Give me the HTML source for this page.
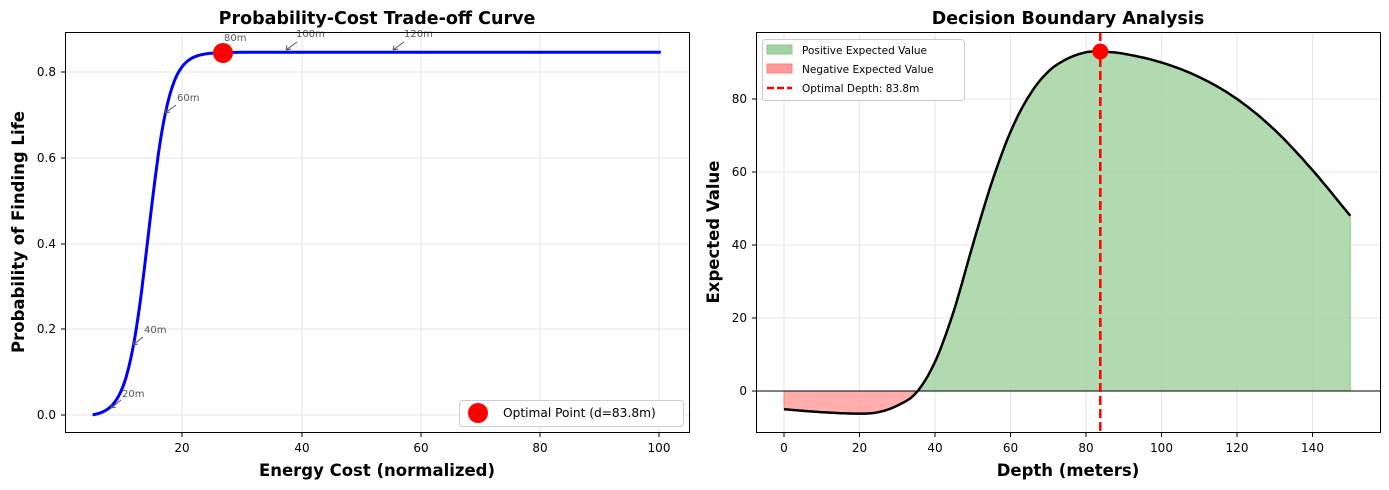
<!DOCTYPE html>
<html><head><meta charset="utf-8"><style>
body{margin:0;background:#fff;}
svg{display:block;font-family:"DejaVu Sans","Liberation Sans",sans-serif;}
</style></head><body>
<svg id="s" width="1389" height="490" viewBox="0 0 1389 490" xmlns="http://www.w3.org/2000/svg">
<rect width="1389" height="490" fill="#fff"/>
<g id="grid" stroke="#e6e6e6" stroke-width="1"></g>
<path id="redfill" fill="#ff9999" fill-opacity="0.8" stroke="#ff8080" stroke-width="1"/>
<path id="greenfill" fill="#a3d3a3" fill-opacity="0.85" stroke="#8cc78c" stroke-width="1"/>
<line x1="756" y1="391" x2="1380" y2="391" stroke="#000" stroke-width="1"/>
<path id="rcurve" fill="none" stroke="#000" stroke-width="2.5"/>
<line x1="1100.3" y1="32" x2="1100.3" y2="433" stroke="#f00" stroke-width="2.5" stroke-dasharray="9,4"/>
<circle cx="1100.3" cy="51.5" r="8" fill="#f00"/>
<path id="lcurve" fill="none" stroke="#00f" stroke-width="3"/>
<circle cx="223" cy="53" r="10" fill="#f00"/>
<g fill="#555" font-size="10" stroke="none">
<text x="122" y="397">20m</text>
<text x="144" y="333">40m</text>
<text x="177" y="101">60m</text>
<text x="224" y="41">80m</text>
<text x="296" y="37">100m</text>
<text x="404" y="37">120m</text>
</g>
<g stroke="#555" stroke-width="1" fill="none">
<path d="M121,400 L111,408 M111,408 l5,-1 M111,408 l1,-4.5"/>
<path d="M143,337 L133,345 M133,345 l5,-1 M133,345 l1,-4.5"/>
<path d="M176,105 L165,113 M165,113 l5,-1 M165,113 l1,-4.5"/>
<path d="M297,42 L286,50 M286,50 l5,-1 M286,50 l1,-4.5"/>
<path d="M404,42 L393,50 M393,50 l5,-1 M393,50 l1,-4.5"/>
</g>
<rect x="65.5" y="32.5" width="624" height="400" fill="none" stroke="#000" stroke-width="1"/>
<rect x="756.5" y="32.5" width="624" height="400" fill="none" stroke="#000" stroke-width="1"/>
<g id="ticks" stroke="#000" stroke-width="1"></g>
<g id="labels" font-size="12" fill="#000">
<text x="182" y="452" text-anchor="middle">20</text>
<text x="302" y="452" text-anchor="middle">40</text>
<text x="421" y="452" text-anchor="middle">60</text>
<text x="540" y="452" text-anchor="middle">80</text>
<text x="659" y="452" text-anchor="middle">100</text>
<text x="56" y="419" text-anchor="end">0.0</text>
<text x="56" y="333" text-anchor="end">0.2</text>
<text x="56" y="248" text-anchor="end">0.4</text>
<text x="56" y="162" text-anchor="end">0.6</text>
<text x="56" y="76" text-anchor="end">0.8</text>
<text x="784" y="452" text-anchor="middle">0</text>
<text x="859.5" y="452" text-anchor="middle">20</text>
<text x="935" y="452" text-anchor="middle">40</text>
<text x="1010.5" y="452" text-anchor="middle">60</text>
<text x="1086" y="452" text-anchor="middle">80</text>
<text x="1161.5" y="452" text-anchor="middle">100</text>
<text x="1237" y="452" text-anchor="middle">120</text>
<text x="1312.5" y="452" text-anchor="middle">140</text>
<text x="747" y="395" text-anchor="end">0</text>
<text x="747" y="322" text-anchor="end">20</text>
<text x="747" y="249" text-anchor="end">40</text>
<text x="747" y="176" text-anchor="end">60</text>
<text x="747" y="103" text-anchor="end">80</text>
</g>
<g font-weight="bold" fill="#000">
<text x="377" y="24" text-anchor="middle" font-size="17.5">Probability-Cost Trade-off Curve</text>
<text x="1068" y="24" text-anchor="middle" font-size="17.5">Decision Boundary Analysis</text>
<text x="377" y="476" text-anchor="middle" font-size="16.5">Energy Cost (normalized)</text>
<text x="1068" y="476" text-anchor="middle" font-size="16.5">Depth (meters)</text>
<text transform="translate(24,232) rotate(-90)" text-anchor="middle" font-size="16.5">Probability of Finding Life</text>
<text transform="translate(719,232) rotate(-90)" text-anchor="middle" font-size="16.5">Expected Value</text>
</g>
<rect x="459.5" y="400.5" width="224" height="26" rx="3" fill="#fff" stroke="#ccc"/>
<circle cx="478" cy="413" r="10" fill="#f00"/>
<text x="503" y="417" font-size="12.2">Optimal Point (d=83.8m)</text>
<rect x="762.5" y="39.5" width="202" height="61" rx="3" fill="#fff" stroke="#ccc"/>
<rect x="767" y="45" width="25" height="9" fill="#a3d3a3" stroke="#8cc78c"/>
<rect x="767" y="64" width="25" height="9" fill="#ff9999" stroke="#ff8080"/>
<line x1="767" y1="88" x2="792" y2="88" stroke="#f00" stroke-width="2.5" stroke-dasharray="7,3"/>
<g font-size="10.5"><text x="802" y="54">Positive Expected Value</text>
<text x="802" y="73">Negative Expected Value</text>
<text x="802" y="92">Optimal Depth: 83.8m</text></g>
</svg>
<script>
(function(){
var g=document.getElementById('grid'),t=document.getElementById('ticks'),ns='http://www.w3.org/2000/svg';
function L(p,x1,y1,x2,y2){var l=document.createElementNS(ns,'line');l.setAttribute('x1',x1);l.setAttribute('y1',y1);l.setAttribute('x2',x2);l.setAttribute('y2',y2);p.appendChild(l);}
[182,302,421,540,659].forEach(function(x){L(g,x,33,x,432);L(t,x,433,x,437);});
[415,329,244,158,72].forEach(function(y){L(g,66,y,689,y);L(t,61,y,65,y);});
[784,859.5,935,1010.5,1086,1161.5,1237,1312.5].forEach(function(x){L(g,x,33,x,432);L(t,x,433,x,437);});
[391,318,245,172,99].forEach(function(y){L(g,757,y,1379,y);L(t,752,y,756,y);});
var d='';for(var c=5;c<=100.3;c+=0.1){var p=0.85/(1+Math.exp(-0.563*(c-14.36)))-0.004;if(p<0)p=0;var x=62.75+c*5.9625,y=415-p*428.75;d+=(d?'L':'M')+x.toFixed(1)+','+y.toFixed(1);}
document.getElementById('lcurve').setAttribute('d',d);
var pts=[[0,-5],[10,-5.8],[20,-6.2],[25,-5.8],[30,-4],[35,-0.5],[40,8],[45,22],[50,40],[55,57],[60,71],[65,81],[70,87.5],[75,91],[80,92.8],[84,93],[90,92.4],[100,90],[110,86],[120,80],[130,71.5],[140,60.5],[150,48]];
function ev(dd){for(var i=0;i<pts.length-1;i++){var a=pts[i],b=pts[i+1];if(dd<=b[0]){var u=(dd-a[0])/(b[0]-a[0]);
var p0=pts[Math.max(i-1,0)],p3=pts[Math.min(i+2,pts.length-1)];var m1=(b[1]-p0[1])/(b[0]-p0[0])*(b[0]-a[0]),m2=(p3[1]-a[1])/(p3[0]-a[0])*(b[0]-a[0]);
var u2=u*u,u3=u2*u;return (2*u3-3*u2+1)*a[1]+(u3-2*u2+u)*m1+(-2*u3+3*u2)*b[1]+(u3-u2)*m2;}}return 48;}
function X(v){return 784+v*3.775;}function Y(v){return 391-v*3.65;}
var r='',rf='',gf='';var ps=[];for(var dd=0;dd<=150.001;dd+=0.5){ps.push([dd,ev(dd)]);}
ps.forEach(function(q){r+=(r?'L':'M')+X(q[0]).toFixed(1)+','+Y(q[1]).toFixed(1);});
document.getElementById('rcurve').setAttribute('d',r);
var neg=ps.filter(function(q){return q[1]<=0;}),pos=ps.filter(function(q){return q[1]>=0;});
rf='M'+X(neg[0][0])+','+Y(0);neg.forEach(function(q){rf+='L'+X(q[0]).toFixed(1)+','+Y(q[1]).toFixed(1);});rf+='L'+X(neg[neg.length-1][0])+','+Y(0)+'Z';
gf='M'+X(pos[0][0])+','+Y(0);pos.forEach(function(q){gf+='L'+X(q[0]).toFixed(1)+','+Y(q[1]).toFixed(1);});gf+='L'+X(150)+','+Y(0)+'Z';
document.getElementById('redfill').setAttribute('d',rf);document.getElementById('greenfill').setAttribute('d',gf);
})();
</script>
</body></html>
